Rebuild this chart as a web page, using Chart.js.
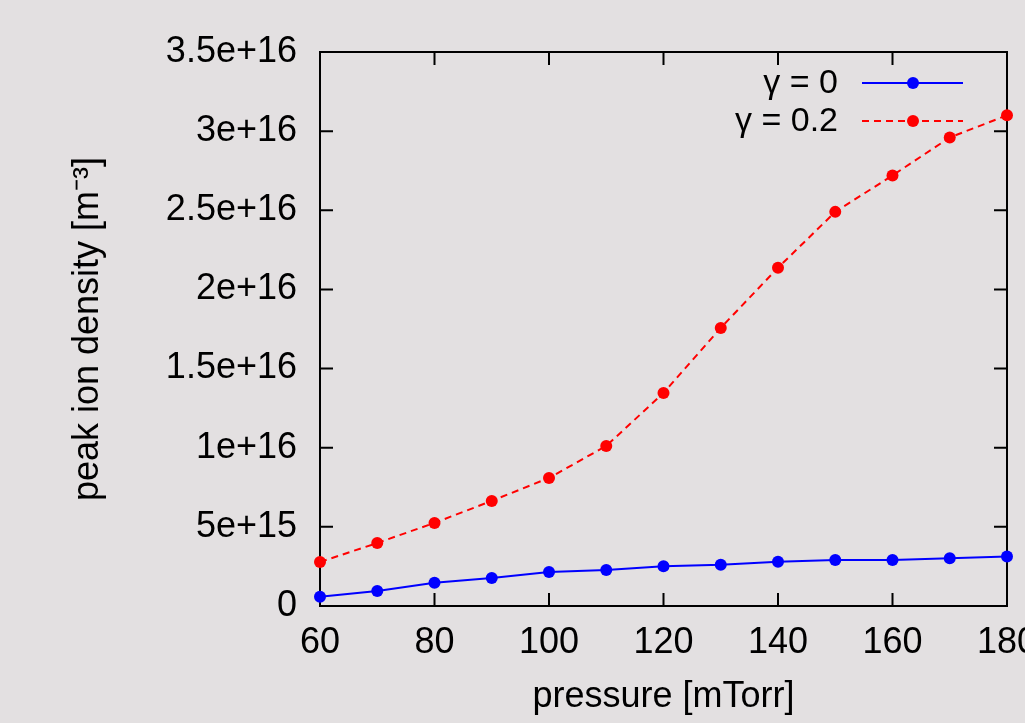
<!DOCTYPE html>
<html>
<head>
<meta charset="utf-8">
<script src="https://cdn.jsdelivr.net/npm/chart.js@4.4.1/dist/chart.umd.min.js"></script>
<style>
    html, body { margin: 0; padding: 0; background: #e3e0e1; overflow: hidden; }
    #wrap { width: 1025px; height: 723px; position: relative; }
</style>
</head>
<body>
<div id="wrap"><canvas id="density-chart"></canvas></div>
<script>
// pressure [mTorr]
const pressure = [60, 70, 80, 90, 100, 110, 120, 130, 140, 150, 160, 170, 180];
// peak ion density [m^-3], gamma = 0
const densityGamma0 = [0.59e15, 0.95e15, 1.47e15, 1.77e15, 2.15e15, 2.28e15, 2.51e15, 2.61e15, 2.80e15, 2.91e15, 2.91e15, 3.01e15, 3.12e15];
// peak ion density [m^-3], gamma = 0.2
const densityGamma02 = [2.78e15, 3.98e15, 5.25e15, 6.64e15, 8.09e15, 1.011e16, 1.346e16, 1.757e16, 2.137e16, 2.49e16, 2.72e16, 2.96e16, 3.10e16];
const seriesLabels = ["γ = 0", "γ = 0.2"];
const yTickLabels = ["0", "5e+15", "1e+16", "1.5e+16", "2e+16", "2.5e+16", "3e+16", "3.5e+16"];
const xTickLabels = ["60", "80", "100", "120", "140", "160", "180"];

const FONT = "'Liberation Sans', Arial, Helvetica, sans-serif";

// gnuplot style frame with inward ticks
const framePlugin = {
    id: 'frame',
    beforeDatasetsDraw(chart) {
        const ctx = chart.ctx;
        const a = chart.chartArea;
        const tl = 13;
        ctx.save();
        ctx.strokeStyle = '#000';
        ctx.lineWidth = 2;
        ctx.strokeRect(a.left, a.top, a.right - a.left, a.bottom - a.top);
        ctx.beginPath();
        chart.scales.x.ticks.forEach(function(t) {
            const px = chart.scales.x.getPixelForValue(t.value);
            ctx.moveTo(px, a.bottom); ctx.lineTo(px, a.bottom - tl);
            ctx.moveTo(px, a.top); ctx.lineTo(px, a.top + tl);
        });
        chart.scales.y.ticks.forEach(function(t) {
            const py = chart.scales.y.getPixelForValue(t.value);
            ctx.moveTo(a.left, py); ctx.lineTo(a.left + tl, py);
            ctx.moveTo(a.right, py); ctx.lineTo(a.right - tl, py);
        });
        ctx.stroke();
        ctx.restore();
    }
};

// legend: text on the left, line sample with point on the right
const keyPlugin = {
    id: 'key',
    afterDatasetsDraw(chart) {
        const ctx = chart.ctx;
        const rows = [83, 121];
        ctx.save();
        ctx.font = "34px " + FONT;
        ctx.textAlign = 'right';
        ctx.textBaseline = 'middle';
        chart.data.datasets.forEach(function(ds, i) {
            const y = rows[i];
            ctx.fillStyle = '#000';
            ctx.fillText(ds.label, 838, y + 1);
            ctx.strokeStyle = ds.borderColor;
            ctx.lineWidth = ds.borderWidth;
            ctx.setLineDash(ds.borderDash || []);
            ctx.beginPath();
            ctx.moveTo(862, y); ctx.lineTo(963, y);
            ctx.stroke();
            ctx.setLineDash([]);
            ctx.fillStyle = ds.pointBackgroundColor;
            ctx.beginPath();
            ctx.arc(913, y, ds.pointRadius, 0, Math.PI * 2);
            ctx.fill();
        });
        ctx.restore();
    }
};

var ctx = document.getElementById("density-chart").getContext("2d");

var densityChart = new Chart(ctx, {
    type: "line",
    data: {
        datasets: [{
            label: seriesLabels[0],
            data: pressure.map(function(p, i) { return { x: p, y: densityGamma0[i] }; }),
            borderColor: "#0000ff",
            backgroundColor: "#0000ff",
            pointBackgroundColor: "#0000ff",
            pointBorderWidth: 0,
            borderWidth: 2,
            pointRadius: 6,
            tension: 0,
            fill: false,
            clip: false
        },
        {
            label: seriesLabels[1],
            data: pressure.map(function(p, i) { return { x: p, y: densityGamma02[i] }; }),
            borderColor: "#ff0000",
            backgroundColor: "#ff0000",
            pointBackgroundColor: "#ff0000",
            pointBorderWidth: 0,
            borderWidth: 2,
            borderDash: [7, 5],
            pointRadius: 6,
            tension: 0,
            fill: false,
            clip: false
        }]
    },
    options: {
        responsive: true,
        maintainAspectRatio: false,
        animation: false,
        layout: {
            padding: { top: 52, right: 18, bottom: 0, left: 0 }
        },
        plugins: {
            legend: { display: false },
            tooltip: { enabled: false }
        },
        scales: {
            x: {
                type: 'linear',
                min: 60,
                max: 180,
                grid: { display: false, drawTicks: false },
                border: { display: false },
                ticks: {
                    stepSize: 20,
                    padding: 15,
                    maxRotation: 0,
                    color: "#000",
                    font: { size: 36, family: FONT },
                    callback: function(value, index) { return xTickLabels[index]; }
                },
                title: {
                    display: true,
                    text: "pressure [mTorr]",
                    color: "#000",
                    padding: { top: 0, bottom: 4 },
                    font: { size: 36, family: FONT }
                },
                afterFit: function(s) { s.height = 117; s.paddingLeft = 0; s.paddingRight = 0; }
            },
            y: {
                min: 0,
                max: 3.5e16,
                grid: { display: false, drawTicks: false },
                border: { display: false },
                ticks: {
                    stepSize: 5e15,
                    padding: 23,
                    color: "#000",
                    font: { size: 36, family: FONT },
                    callback: function(value, index) { return yTickLabels[index]; }
                },
                title: {
                    display: true,
                    text: "peak ion density [m⁻³]",
                    color: "#000",
                    padding: { top: 66, bottom: 0 },
                    font: { size: 36, family: FONT }
                },
                afterFit: function(s) { s.width = 320; }
            }
        }
    },
    plugins: [framePlugin, keyPlugin]
});
</script>
</body>
</html>
